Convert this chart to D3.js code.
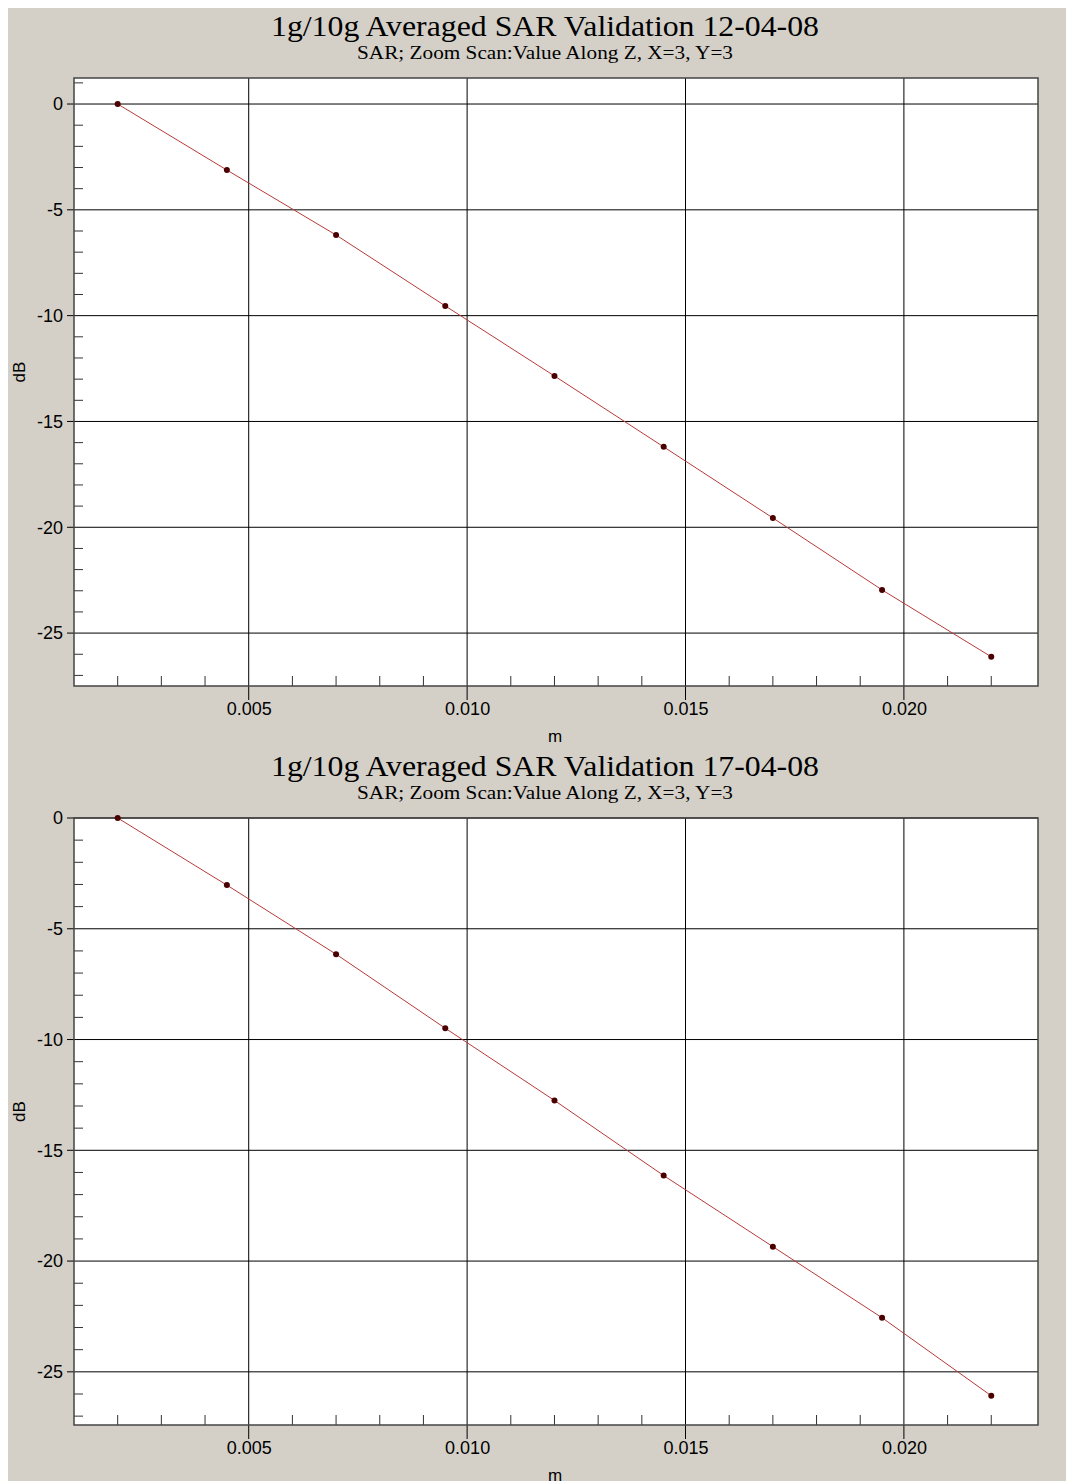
<!DOCTYPE html>
<meta charset="utf-8">
<style>
    body { margin: 0; background: #fff; }
    .tick text { font: 18px "Liberation Sans", Arial, sans-serif; fill: #000; }
    .title { font-family: "Liberation Serif", "Times New Roman", serif; fill: #000; }
    .lbl { font: 17px "Liberation Sans", Arial, sans-serif; fill: #000; }
</style>
<body>
<div id="chart"></div>
<script src="https://cdn.jsdelivr.net/npm/d3@7"></script>
<script>
    var width = 1066,
        height = 1481

    // distance along z (m)
    var xValues = [0.002, 0.0045, 0.007, 0.0095, 0.012, 0.0145, 0.017, 0.0195, 0.022]
    var dbTop = [0, -3.12, -6.19, -9.54, -12.85, -16.2, -19.56, -22.96, -26.12]
    var dbBottom = [0, -3.03, -6.15, -9.49, -12.75, -16.14, -19.35, -22.56, -26.08]
    var titles = ["1g/10g Averaged SAR Validation 12-04-08", "1g/10g Averaged SAR Validation 17-04-08"]
    var subtitle = "SAR; Zoom Scan:Value Along Z, X=3, Y=3"
    var xTicks = [0.005, 0.010, 0.015, 0.020]
    var yTicks = [0, -5, -10, -15, -20, -25]

    var svg = d3.select("#chart").append("svg")
        .attr("width", width)
        .attr("height", height)

    svg.append("rect")
        .attr("x", 8).attr("y", 8)
        .attr("width", width - 8).attr("height", height - 8)
        .attr("fill", "#d4d0c8")

    function drawChart(top, bottom, yMax, yMin, title, values) {
        var left = 74, right = 1038
        var x = d3.scaleLinear().domain([0.001, 0.02307]).range([left, right])
        var y = d3.scaleLinear().domain([yMin, yMax]).range([bottom, top])

        var g = svg.append("g")

        g.append("text").attr("class", "title")
            .attr("x", 545).attr("y", top - 42)
            .attr("text-anchor", "middle")
            .style("font-size", "30px")
            .attr("textLength", 548).attr("lengthAdjust", "spacingAndGlyphs")
            .text(title)
        g.append("text").attr("class", "title")
            .attr("x", 545).attr("y", top - 19)
            .attr("text-anchor", "middle")
            .style("font-size", "18px")
            .attr("textLength", 376).attr("lengthAdjust", "spacingAndGlyphs")
            .text(subtitle)

        g.append("rect")
            .attr("x", left).attr("y", top)
            .attr("width", right - left).attr("height", bottom - top)
            .attr("fill", "#fff")

        // grid
        g.selectAll(".vgrid").data(xTicks).enter().append("line")
            .attr("x1", function (d) { return x(d) }).attr("x2", function (d) { return x(d) })
            .attr("y1", top).attr("y2", bottom + 14)
            .attr("stroke", "#000").attr("stroke-width", 1)
        g.selectAll(".hgrid").data(yTicks).enter().append("line")
            .attr("x1", left - 7).attr("x2", right)
            .attr("y1", function (d) { return y(d) }).attr("y2", function (d) { return y(d) })
            .attr("stroke", "#000").attr("stroke-width", 1)

        // minor ticks
        var xMinor = d3.range(2, 23).map(function (i) { return i / 1000 }).filter(function (v) { return Math.round(v * 1000) % 5 != 0 })
        g.selectAll(".xminor").data(xMinor).enter().append("line")
            .attr("x1", function (d) { return x(d) }).attr("x2", function (d) { return x(d) })
            .attr("y1", bottom).attr("y2", bottom - 10)
            .attr("stroke", "#333").attr("stroke-width", 1)
        var yMinor = d3.range(Math.ceil(yMin), Math.floor(yMax) + 1).filter(function (v) { return v % 5 != 0 })
        g.selectAll(".yminor").data(yMinor).enter().append("line")
            .attr("x1", left).attr("x2", left + 9)
            .attr("y1", function (d) { return y(d) }).attr("y2", function (d) { return y(d) })
            .attr("stroke", "#333").attr("stroke-width", 1)

        g.append("rect")
            .attr("x", left).attr("y", top)
            .attr("width", right - left).attr("height", bottom - top)
            .attr("fill", "none").attr("stroke", "#444").attr("stroke-width", 1.5)

        // tick labels
        g.append("g").attr("class", "xaxis")
            .attr("transform", "translate(0," + (bottom + 14) + ")")
            .call(d3.axisBottom(x).tickValues(xTicks).tickSize(0).tickPadding(2).tickFormat(d3.format(".3f")))
            .call(function (a) { a.select(".domain").remove() })
        g.append("g").attr("class", "yaxis")
            .attr("transform", "translate(" + (left - 7) + ",0)")
            .call(d3.axisLeft(y).tickValues(yTicks).tickSize(0).tickPadding(4)
                .tickFormat(function (d) { return String(d) }))
            .call(function (a) { a.select(".domain").remove() })

        g.append("text").attr("class", "lbl")
            .attr("x", 555).attr("y", bottom + 56)
            .attr("text-anchor", "middle").text("m")
        g.append("text").attr("class", "lbl")
            .attr("transform", "translate(25," + ((top + bottom) / 2 - 10) + ") rotate(-90)")
            .attr("text-anchor", "middle").text("dB")

        var line = d3.line()
            .x(function (d, i) { return x(xValues[i]) })
            .y(function (d) { return y(d) })
        g.append("path").datum(values)
            .attr("d", line)
            .attr("fill", "none").attr("stroke", "#b83a3a").attr("stroke-width", 1)
        g.selectAll(".pt").data(values).enter().append("circle")
            .attr("cx", function (d, i) { return x(xValues[i]) })
            .attr("cy", function (d) { return y(d) })
            .attr("r", 3)
            .attr("fill", "#4a0000")
    }

    drawChart(78, 686, 1.23, -27.5, titles[0], dbTop)
    drawChart(818, 1425, 0, -27.4, titles[1], dbBottom)
</script>
</body>
